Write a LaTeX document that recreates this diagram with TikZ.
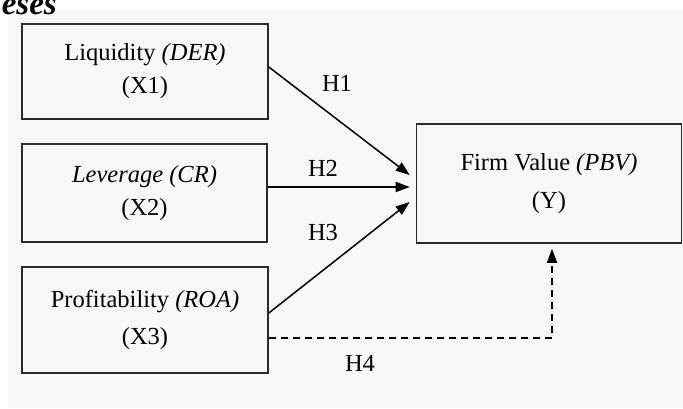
\documentclass[tikz,border=0pt]{standalone}
\usepackage{fontspec}
\setmainfont{Liberation Serif}
\usetikzlibrary{arrows.meta}
\definecolor{bg}{HTML}{F7F7F7}
\definecolor{edge}{HTML}{2A2A2A}
\tikzset{
  box/.style={draw=edge, line width=1.6pt, fill=bg, align=center, inner sep=0pt,
    font=\fontsize{24.5}{33}\selectfont},
  conn/.style={line width=1.5pt, -{Triangle[length=14pt,width=10pt]}},
  dconn/.style={conn, dash pattern=on 7pt off 5pt},
  lbl/.style={font=\fontsize{24.5}{28}\selectfont, inner sep=0pt}
}
\begin{document}
\begin{tikzpicture}[x=1pt,y=-1pt]
\useasboundingbox (0,0) rectangle (683,408);
\fill[bg] (8,10) rectangle (683,408);
\node[font=\fontsize{33}{36}\selectfont\bfseries\itshape, anchor=base east, inner sep=0pt] (head) at (57,14) {eses};
\node[box, minimum width=246pt, minimum height=95pt] (b1) at (145,71.5) {Liquidity \textit{(DER)}\\(X1)};
\node[box, minimum width=245pt, minimum height=98pt] (b2) at (144.5,193) {\textit{Leverage (CR)}\\(X2)};
\node[box, minimum width=246pt, minimum height=106pt] (b3) at (145,320) {Profitability \textit{(ROA)}\\[4pt](X3)};
\node[box, minimum width=265pt, minimum height=119pt] (y) at (549,183.5) {Firm Value \textit{(PBV)}\\[5pt](Y)};
\draw[conn] ([yshift=4.5pt]b1.east) -- ([xshift=-6pt,yshift=8.5pt]y.west);
\draw[conn] ([yshift=6pt]b2.east) -- ([xshift=-6pt,yshift=-3.5pt]y.west);
\draw[conn] ([yshift=7pt]b3.east) -- ([xshift=-6pt,yshift=-18.5pt]y.west);
\coordinate (corner) at (552,338);
\draw[dconn] (b3.east |- corner) -- (corner) -- ([xshift=3pt,yshift=-5pt]y.south);
\node[lbl] (h1) at (337,83) {H1};
\node[lbl] (h2) at (323,168) {H2};
\node[lbl] (h3) at (323,233) {H3};
\node[lbl] (h4) at (360,363) {H4};
\end{tikzpicture}
\end{document}
